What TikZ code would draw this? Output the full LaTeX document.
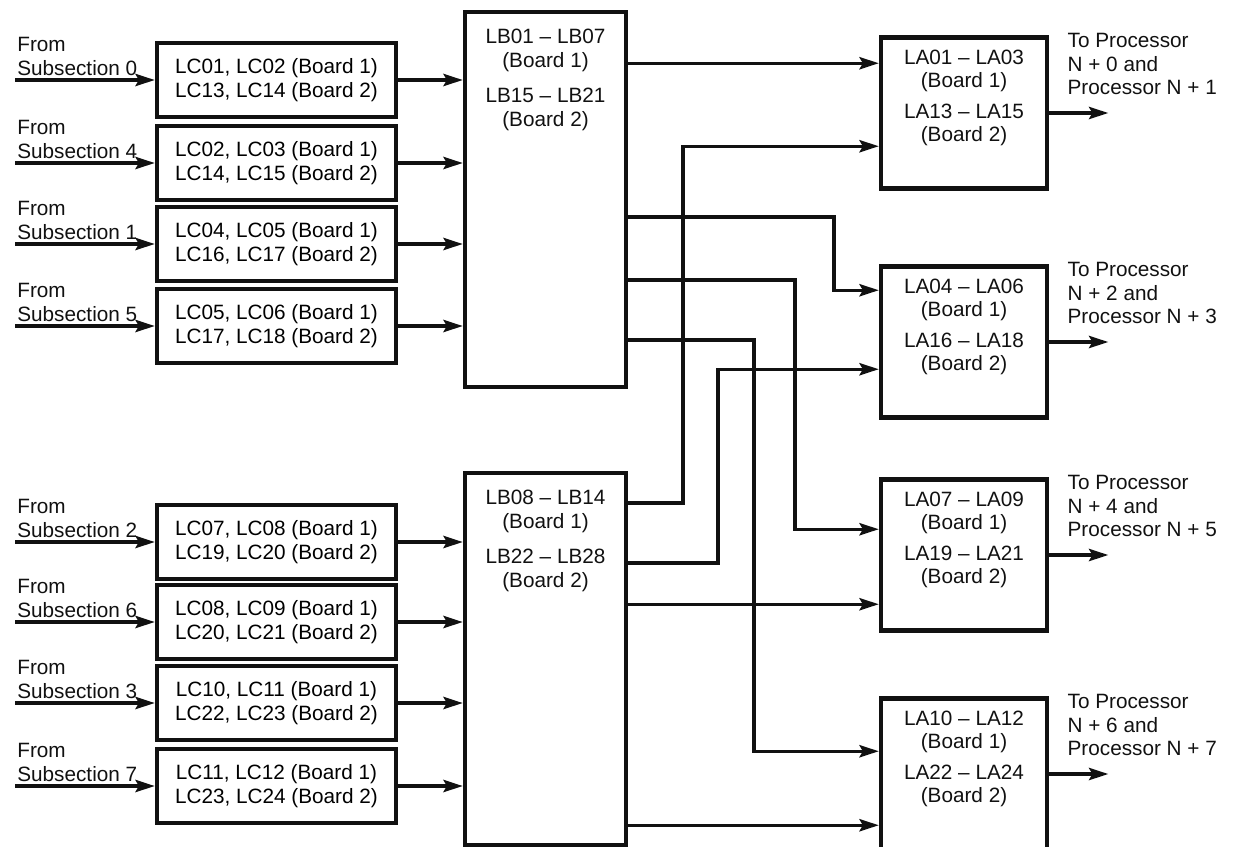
\documentclass[tikz,border=0pt]{standalone}
\usepackage{fontspec}
\setmainfont{Liberation Sans}
\usepackage{tikz}
\usetikzlibrary{arrows.meta,calc}
\definecolor{ink}{HTML}{111111}
\tikzset{fig/.style={line join=miter,>={Stealth[length=11pt,width=7pt,inset=2pt]}},
  card/.style={draw=ink,line width=2.6pt,inner sep=0pt,align=center},
  sig/.style={draw=ink,line width=1.8pt,->},
  txt/.style={inner sep=0pt,align=center,text=ink},
  lbl/.style={inner sep=0pt,align=left,text=ink}}

\begin{document}
\begin{tikzpicture}[fig,x=0.02cm,y=-0.02cm,font={\fontsize{11.8}{13.4}\selectfont}]
  \useasboundingbox (0,0) rectangle (1233,846);
  % LB cards
  \node[card,minimum width=3.22cm,minimum height=7.5cm](lb1)at(545.5,199.5){};
  \node[card,minimum width=3.22cm,minimum height=7.44cm](lb2)at(545.5,659){};
  \node[txt,anchor=north](lbt1)at([yshift=-0.38cm]lb1.north){LB01 -- LB07\\(Board 1)\\[7pt]LB15 -- LB21\\(Board 2)};
  \node[txt,anchor=north](lbt2)at([yshift=-0.38cm]lb2.north){LB08 -- LB14\\(Board 1)\\[7pt]LB22 -- LB28\\(Board 2)};
  % LC cards and their inputs
  \foreach \y/\ma/\mb/\na/\nb/\s [count=\i] in {80/01/02/13/14/0,163/02/03/14/15/4,244/04/05/16/17/1,326/05/06/17/18/5,
     542/07/08/19/20/2,622/08/09/20/21/6,703/10/11/22/23/3,786/11/12/23/24/7}{
   \ifnum\i<5 \def\tgt{lb1}\else\def\tgt{lb2}\fi
   \node[card,minimum width=4.78cm,minimum height=1.48cm](lc\i)at(276.5,\y){LC\ma, LC\mb{} (Board 1)\\LC\na, LC\nb{} (Board 2)};
   \coordinate(src\i)at(15,\y);\draw[sig](src\i)--(lc\i);
   \node[lbl,anchor=south west](from\i)at(17,\y-4){From\\Subsection \s};
   \draw[sig](lc\i.east)--(lc\i.east -| \tgt.west);}
  % LA cards and outputs
  \foreach \y/\ma/\mb/\na/\nb/\pa/\pb [count=\j] in {113/01/03/13/15/0/1,342/04/06/16/18/2/3,555/07/09/19/21/4/5,774/10/12/22/24/6/7}{
   \node[card,minimum width=3.32cm,minimum height=3.02cm](la\j)at(964,\y){};
   \node[txt,anchor=north](lat\j)at([yshift=-0.28cm]la\j.north){LA\ma{} -- LA\mb\\(Board 1)\\[4pt]LA\na{} -- LA\nb\\(Board 2)};
   \node[lbl,anchor=north west](to\j)at([xshift=0.36cm,yshift=0.04cm]la\j.north east){To Processor\\N + \pa{} and\\Processor N + \pb};
   \coordinate(out\j)at([xshift=1.18cm]la\j.east);\draw[sig](la\j.east)--(out\j);}
  \coordinate(i11)at($(la1.north west)+(0,28)$);\coordinate(i12)at($(la1.north west)+(0,111)$);
  \coordinate(i21)at($(la2.north west)+(0,26)$);\coordinate(i22)at($(la2.north west)+(0,105)$);
  \coordinate(i31)at($(la3.north west)+(0,52)$);\coordinate(i32)at($(la3.north west)+(0,127)$);
  \coordinate(i41)at($(la4.north west)+(0,55)$);\coordinate(i42)at($(la4.north west)+(0,129)$);
  % LB to LA wiring
  \draw[sig](lb1.east |- i11)--(i11);
  \draw[sig](lb1.east |- 0,217)-|(834,0 |- i21)--(i21);
  \draw[sig](lb1.east |- 0,280)-|(795,0 |- i31)--(i31);
  \draw[sig](lb1.east |- 0,340)-|(754,0 |- i41)--(i41);
  \draw[sig](lb2.east |- 0,503)-|(683,0 |- i12)--(i12);
  \draw[sig](lb2.east |- 0,563)-|(718,0 |- i22)--(i22);
  \draw[sig](lb2.east |- i32)--(i32);
  \draw[sig](lb2.east |- i42)--(i42);
\end{tikzpicture}
\end{document}
